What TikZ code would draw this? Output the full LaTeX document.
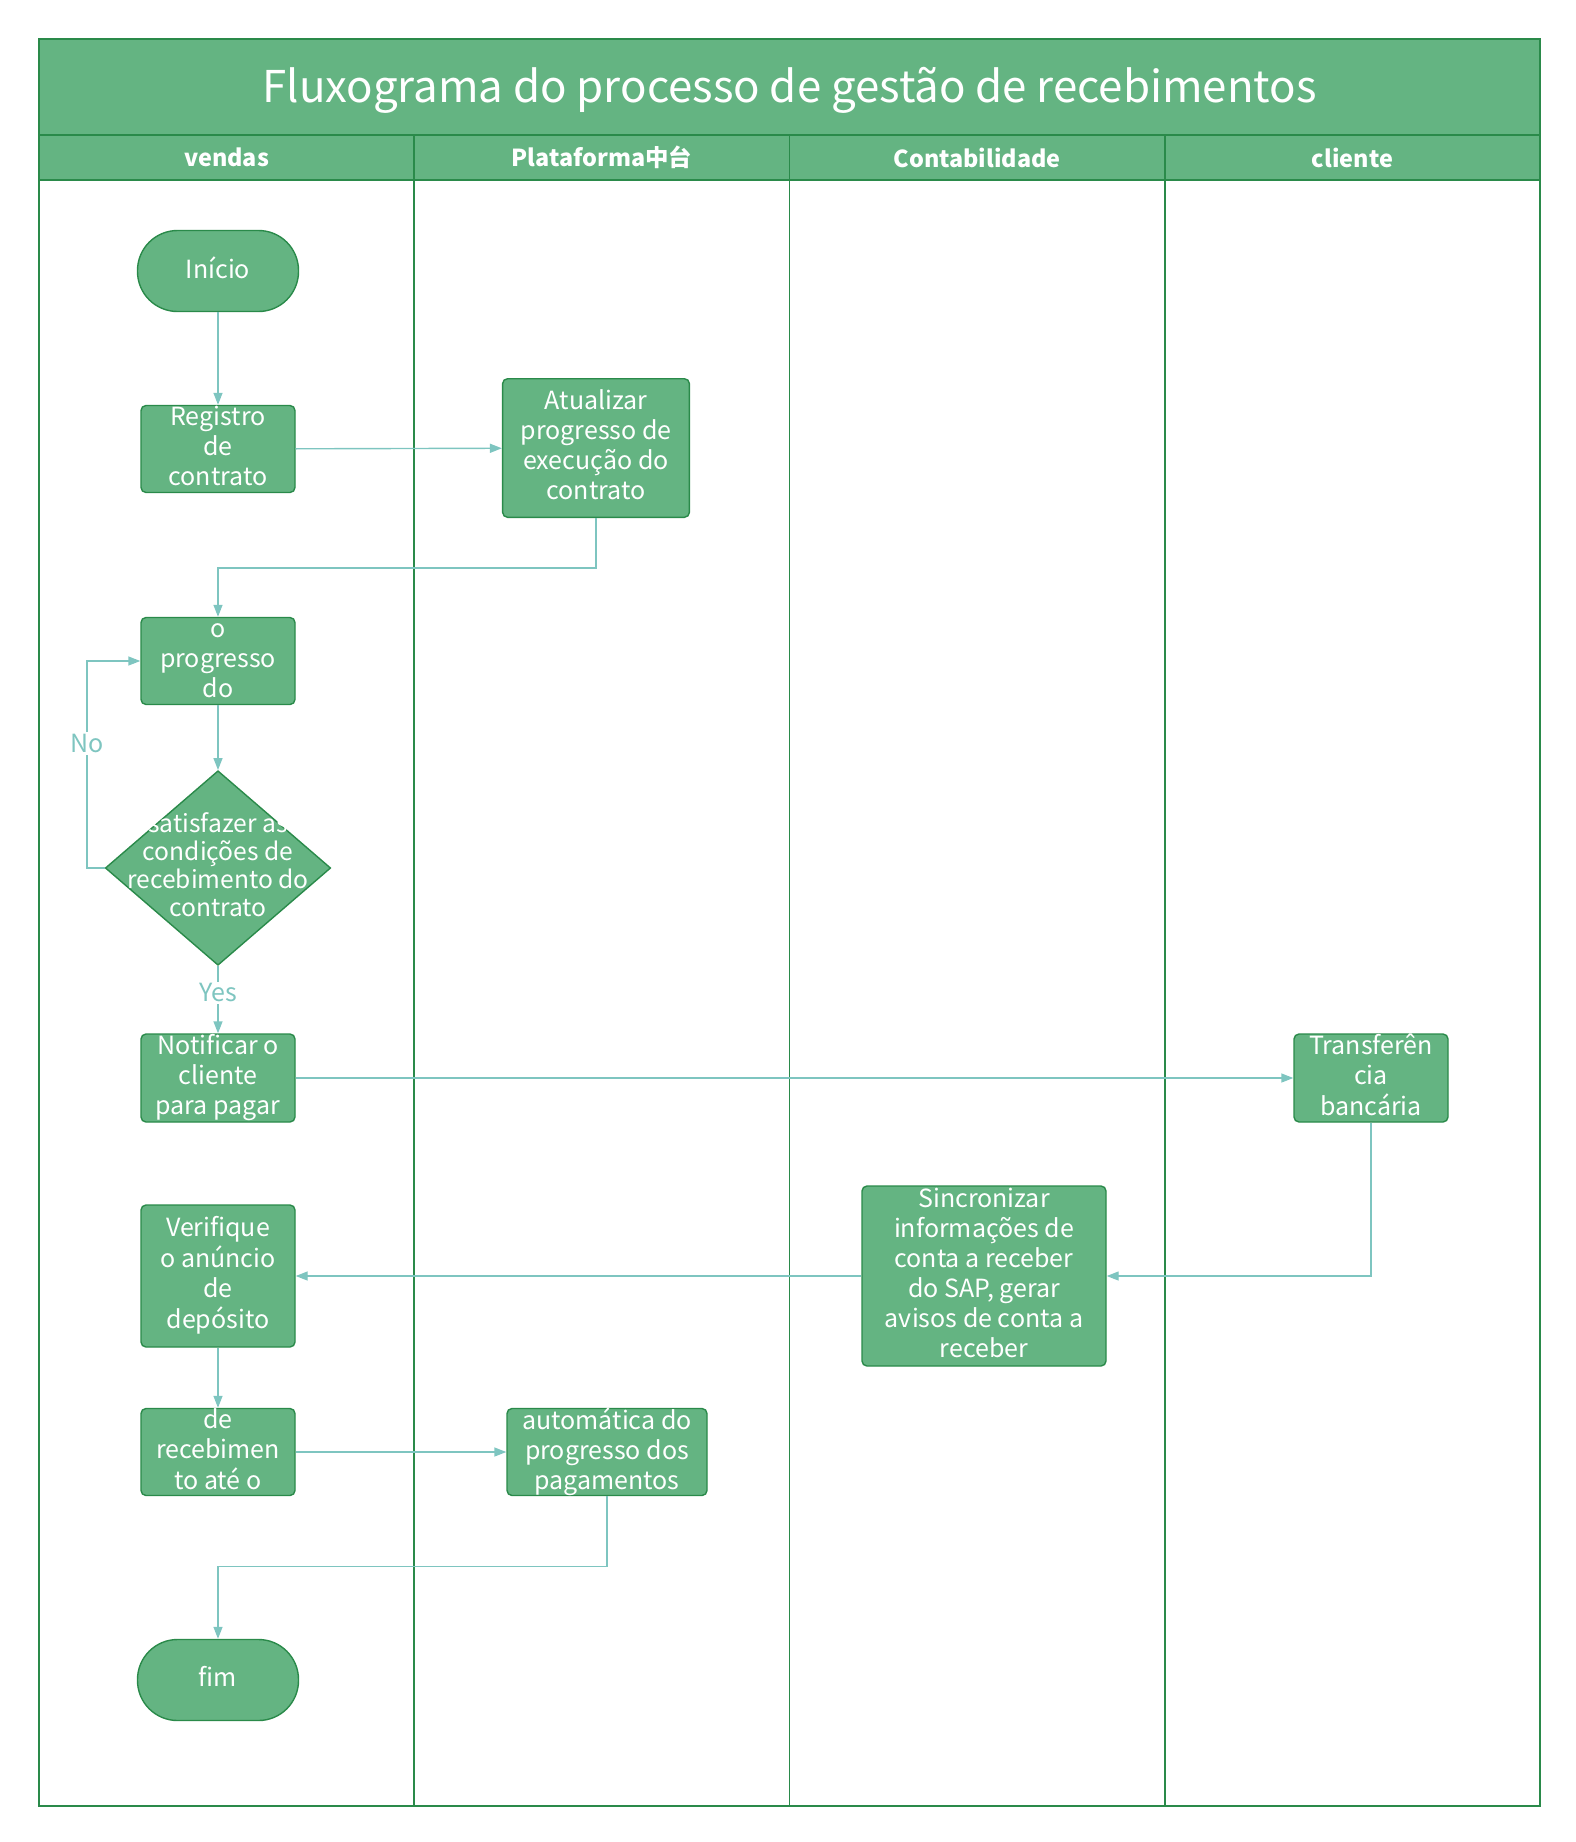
\documentclass[tikz,border=0pt]{standalone}
\usepackage{fontspec}
\setmainfont{Noto Sans CJK SC}
\usetikzlibrary{arrows.meta, positioning, shapes.geometric}
\definecolor{cfill}{HTML}{64B482}
\definecolor{cline}{HTML}{2A8A4A}
\definecolor{cflow}{HTML}{7EC5C0}
\newcommand{\boxtext}[1]{\raisebox{-6.6pt}{\smash{\begin{tabular}{@{}c@{}}#1\end{tabular}}}}
\tikzset{
  every picture/.style={line width=0.7pt},
  lane/.style={draw=cline, line width=0.8pt},
  box/.style={draw=cline, fill=cfill, rounded corners=2.5pt, text=white, inner sep=0pt, minimum width=77pt, minimum height=43.5pt, font=\fontsize{12.5}{15}\selectfont},
  terminal/.style={box, rounded corners=20pt, minimum width=80.5pt, minimum height=40.5pt},
  decision/.style={box, diamond, sharp corners, minimum width=112.7pt, minimum height=92.8pt, font=\fontsize{12.3}{14}\selectfont},
  flow/.style={draw=cflow, line width=0.7pt, -{Triangle[length=6pt, width=4.5pt]}},
  flowlabel/.style={fill=white, text=cflow, inner sep=1pt, font=\fontsize{12.5}{15}\selectfont},
  header/.style={text=white, font=\bfseries\fontsize{11.7}{14}\selectfont},
  title/.style={text=white, font=\fontsize{21.9}{26}\selectfont},
}

\begin{document}
\begin{tikzpicture}[x=0.5pt, y=-0.5pt]
  \useasboundingbox (0,0) rectangle (1575,1842);
  % swimlanes
  \fill[cfill] (39,39) rectangle (1540,180);
  \draw[lane] (39,39) rectangle (1540,1806);
  \draw[lane] (39,135) -- (1540,135);
  \draw[lane] (39,180) -- (1540,180);
  \foreach \x in {414.25, 789.5, 1164.75} \draw[lane] (\x,135) -- (\x,1806);
  \node[title] (titulo) at (789.5,90) {Fluxograma do processo de gestão de recebimentos};
  \foreach \x/\name/\id in {226.6/vendas/h1, 601.9/Plataforma中台/h2, 977.1/Contabilidade/h3, 1352.4/cliente/h4}
    \node[header] (\id) at (\x,157.5) {\name};
  % vendas
  \node[terminal] (inicio) at (218,271) {\boxtext{Início}};
  \node[box] (registro) at (218,449) {\boxtext{Registro\\de\\contrato}};
  \node[box] (verprog) at (218,661) {\boxtext{Verifique\\o\\progresso\\do\\contrato}};
  \node[decision] (decisao) at (218,868) {\boxtext{satisfazer as\\condições de\\recebimento do\\contrato}};
  \node[box, minimum height=44pt] (notificar) at (218,1078) {\boxtext{Notificar o\\cliente\\para pagar}};
  \node[box, minimum height=71pt] (veranun) at (218,1276) {\boxtext{Verifique\\o anúncio\\de\\depósito}};
  \node[box] (aceite) at (218,1452) {\boxtext{Aceitação\\de\\recebimen\\to até o\\contrato}};
  \node[terminal] (fim) at (218,1680) {\boxtext{fim}};
  % plataforma, contabilidade, cliente
  \node[box, minimum width=93.4pt, minimum height=69.3pt] (atualizar) at (596,448) {\boxtext{Atualizar\\progresso de\\execução do\\contrato}};
  \node[box, minimum width=100pt] (autoatu) at (607,1452) {\boxtext{Atualização\\automática do\\progresso dos\\pagamentos\\do contrato}};
  \node[box, minimum width=122pt, minimum height=90pt] (sincron) at (984,1276) {\boxtext{Sincronizar\\informações de\\conta a receber\\do SAP, gerar\\avisos de conta a\\receber}};
  \node[box, minimum height=44pt] (transf) at (1371,1078) {\boxtext{Transferên\\cia\\bancária}};
  % connectors
  \draw[flow] (inicio) -- (registro);
  \draw[flow] (registro) -- (atualizar);
  \draw[flow] (atualizar.south) -- ++(0,50) -| (verprog.north);
  \draw[flow] (verprog) -- (decisao);
  \draw[flow] (decisao.west) -- ++(-17.6,0) |- node[flowlabel, pos=0.3] {No} (verprog.west);
  \draw[flow] (decisao) -- node[flowlabel, pos=0.4] {Yes} (notificar);
  \draw[flow] (notificar) -- (transf);
  \draw[flow] (transf.south) |- (sincron.east);
  \draw[flow] (sincron) -- (veranun);
  \draw[flow] (veranun) -- (aceite);
  \draw[flow] (aceite) -- (autoatu);
  \draw[flow] (autoatu.south) -- ++(0,70.4) -| (fim.north);
\end{tikzpicture}
\end{document}
